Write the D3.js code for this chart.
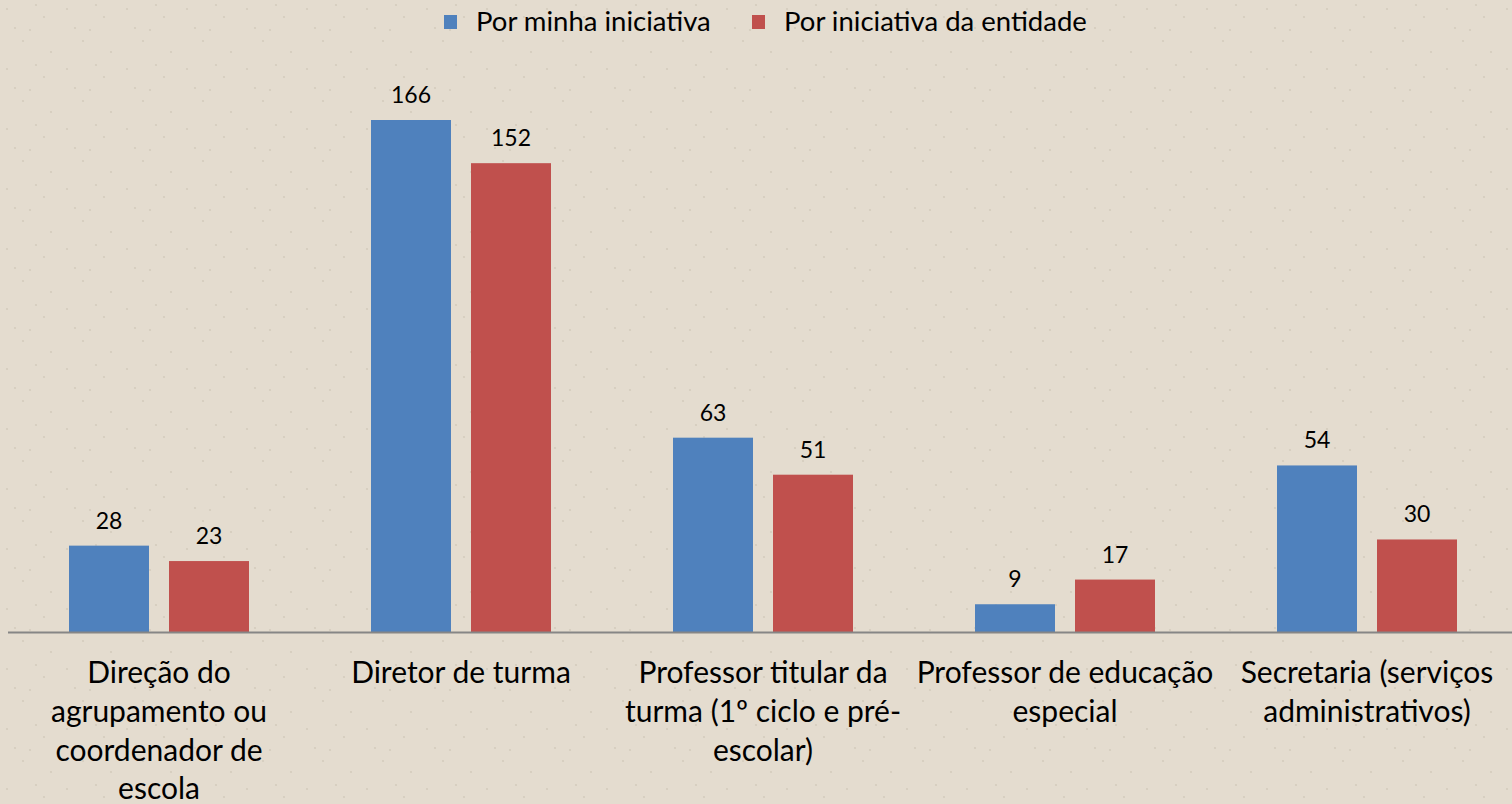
<!DOCTYPE html>
<html>
<head>
<meta charset="utf-8">
<script src="https://cdn.jsdelivr.net/npm/d3@7"></script>
<style>
  html, body { margin: 0; padding: 0; background: #e4dccf; }
  svg { display: block; font-family: Lato, "Noto Sans", sans-serif; }
</style>
</head>
<body>
<div id="chart"></div>
<script>
// data
const categories = [
  ["Direção do", "agrupamento ou", "coordenador de", "escola"],
  ["Diretor de turma"],
  ["Professor titular da", "turma (1º ciclo e pré-", "escolar)"],
  ["Professor de educação", "especial"],
  ["Secretaria (serviços", "administrativos)"]
];
const seriesNames = ["Por minha iniciativa", "Por iniciativa da entidade"];
const minhaIniciativa = [28, 166, 63, 9, 54];
const iniciativaEntidade = [23, 152, 51, 17, 30];
const colors = ["#4f81bd", "#c0504d"];

const W = 1512, H = 804;
const baseY = 632;

const svg = d3.select("#chart").append("svg")
  .attr("width", W).attr("height", H);

// faint paper texture
const defs = svg.append("defs");
const pat = defs.append("pattern").attr("id", "paper")
  .attr("width", 60).attr("height", 60).attr("patternUnits", "userSpaceOnUse");
pat.append("rect").attr("width", 60).attr("height", 60).attr("fill", "#e4dccf");
[[7,9],[23,41],[44,17],[51,52],[15,28],[36,5],[30,30]].forEach(p => {
  pat.append("circle").attr("cx", p[0]).attr("cy", p[1]).attr("r", 1.1)
    .attr("fill", "#cfc5b5").attr("opacity", 0.7);
});
svg.append("rect").attr("width", W).attr("height", H).attr("fill", "url(#paper)");

const keys = categories.map((c, i) => i);
const x0 = d3.scaleBand().domain(keys).range([8, 1518]).paddingInner(0).paddingOuter(0);
const x1 = d3.scaleBand().domain([0, 1]).range([61, 241]).paddingInner(0.2);
const y = d3.scaleLinear().domain([0, 180]).range([baseY, baseY - 180 * 512 / 166]);

const rows = keys.map(i => [minhaIniciativa[i], iniciativaEntidade[i]]);

const groups = svg.selectAll("g.cat").data(rows).enter().append("g")
  .attr("class", "cat")
  .attr("transform", (d, i) => "translate(" + x0(i) + ",0)");

groups.selectAll("rect").data(d => d).enter().append("rect")
  .attr("x", (d, j) => x1(j))
  .attr("y", d => y(d))
  .attr("width", x1.bandwidth())
  .attr("height", d => baseY - y(d))
  .attr("fill", (d, j) => colors[j]);

groups.selectAll("text.val").data(d => d).enter().append("text")
  .attr("class", "val")
  .attr("x", (d, j) => x1(j) + x1.bandwidth() / 2)
  .attr("y", d => y(d) - 17)
  .attr("text-anchor", "middle")
  .style("font-size", "23px")
  .style("fill", "#000")
  .text(d => d);

// axis line
svg.append("line")
  .attr("x1", 8).attr("x2", W)
  .attr("y1", baseY + 0.5).attr("y2", baseY + 0.5)
  .attr("stroke", "#868686").attr("stroke-width", 2);

// category labels
categories.forEach((lines, i) => {
  const t = svg.append("text")
    .attr("x", x0(i) + x0.bandwidth() / 2)
    .attr("y", 683)
    .attr("text-anchor", "middle")
    .style("font-size", "30px")
    .style("fill", "#000");
  lines.forEach((l, k) => {
    t.append("tspan").attr("x", x0(i) + x0.bandwidth() / 2)
      .attr("dy", k === 0 ? 0 : 38.8).text(l);
  });
});

// legend
const legend = svg.append("g");
const legendX = [444, 752];
seriesNames.forEach((name, j) => {
  legend.append("rect").attr("x", legendX[j]).attr("y", 15)
    .attr("width", 13).attr("height", 14).attr("fill", colors[j]);
  legend.append("text").attr("x", legendX[j] + 32).attr("y", 31)
    .style("font-size", "27.5px").style("fill", "#000").text(name);
});
</script>
</body>
</html>
